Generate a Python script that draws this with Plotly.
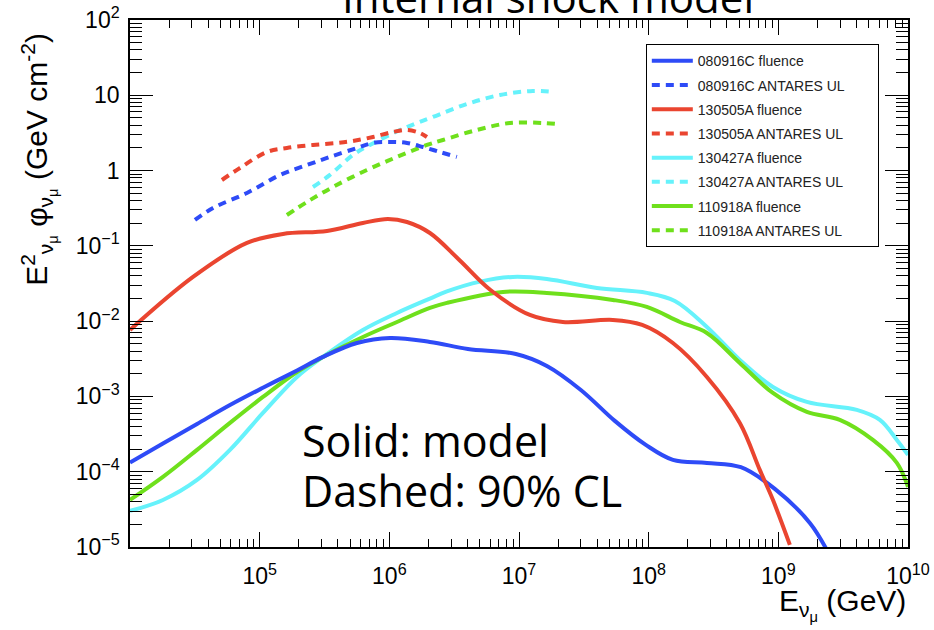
import plotly.graph_objects as go

# ---- data: log10(E / GeV) and log10(E^2 phi / GeV cm^-2) ----
# 080916C model fluence (solid)
le_080916C_fl = [4.000, 4.254, 4.517, 4.771, 5.025, 5.288, 5.488, 5.750, 6.005, 6.313, 6.606, 6.976,
                 7.215, 7.477, 7.739, 7.978, 8.187, 8.449, 8.711, 8.973, 9.243, 9.382]
lf_080916C_fl = [-3.879, -3.625, -3.365, -3.115, -2.885, -2.655, -2.475, -2.290, -2.223, -2.276, -2.369, -2.436,
                 -2.595, -2.914, -3.325, -3.644, -3.843, -3.883, -3.940, -4.228, -4.680, -5.065]
# 080916C ANTARES UL (dashed)
le_080916C_ul = [4.501, 4.640, 4.902, 5.157, 5.365, 5.542, 5.750, 5.874, 6.005, 6.136, 6.259, 6.390, 6.521]
lf_080916C_ul = [-0.656, -0.497, -0.297, -0.058, 0.074, 0.181, 0.300, 0.367, 0.380, 0.367, 0.313, 0.247, 0.181]

# 130505A model fluence (solid)
le_130505A_fl = [4.000, 4.486, 4.902, 5.180, 5.519, 5.796, 5.989, 6.136, 6.313, 6.540, 6.780, 7.084,
                 7.338, 7.724, 7.950, 8.187, 8.449, 8.703, 8.857, 8.958, 9.089]
lf_130505A_fl = [-2.117, -1.413, -0.961, -0.842, -0.802, -0.696, -0.643, -0.683, -0.829, -1.187, -1.586, -1.918,
                 -2.011, -1.984, -2.050, -2.290, -2.741, -3.352, -3.976, -4.374, -4.972]
# 130505A ANTARES UL (dashed)
le_130505A_ul = [4.709, 4.848, 5.056, 5.210, 5.411, 5.596, 5.719, 5.874, 6.028, 6.136, 6.236, 6.290]
lf_130505A_ul = [-0.125, 0.035, 0.247, 0.300, 0.340, 0.367, 0.393, 0.446, 0.513, 0.539, 0.499, 0.446]

# 130427A model fluence (solid)
le_130427A_fl = [4.000, 4.254, 4.517, 4.771, 5.025, 5.288, 5.488, 5.796, 6.059, 6.313, 6.444, 6.700, 6.953,
                 7.215, 7.601, 7.986, 8.202, 8.449, 8.703, 8.958, 9.220, 9.605, 9.783, 9.914, 10.0]
lf_130427A_fl = [-4.521, -4.375, -4.109, -3.710, -3.219, -2.741, -2.475, -2.117, -1.891, -1.700, -1.605, -1.475,
                 -1.413, -1.440, -1.559, -1.625, -1.732, -2.077, -2.515, -2.874, -3.073, -3.179, -3.312, -3.578, -3.777]
# 130427A ANTARES UL (dashed)
le_130427A_ul = [5.411, 5.542, 5.719, 5.850, 6.082, 6.213, 6.336, 6.598, 6.853, 7.107, 7.261]
lf_130427A_ul = [-0.218, -0.058, 0.207, 0.340, 0.539, 0.632, 0.712, 0.884, 1.004, 1.057, 1.044]

# 110918A model fluence (solid)
le_110918A_fl = [4.000, 4.254, 4.517, 4.771, 5.025, 5.288, 5.488, 5.796, 6.059, 6.313, 6.444, 6.876,
                 7.215, 7.724, 7.986, 8.241, 8.449, 8.703, 8.958, 9.220, 9.474, 9.729, 9.914, 10.0]
lf_110918A_fl = [-4.375, -4.069, -3.710, -3.352, -3.007, -2.675, -2.475, -2.210, -2.011, -1.825, -1.758, -1.612,
                 -1.625, -1.718, -1.811, -2.011, -2.157, -2.555, -2.954, -3.206, -3.312, -3.578, -3.883, -4.202]
# 110918A ANTARES UL (dashed)
le_110918A_ul = [5.210, 5.365, 5.565, 5.827, 6.059, 6.290, 6.413, 6.675, 6.930, 7.184, 7.292]
lf_110918A_ul = [-0.590, -0.417, -0.218, 0.008, 0.181, 0.340, 0.406, 0.539, 0.632, 0.632, 0.619]

x_tick_exp = [5, 6, 7, 8, 9, 10]
y_tick_exp = [-5, -4, -3, -2, -1, 0, 1, 2]
y_tick_text = ["10<sup>−5</sup>", "10<sup>−4</sup>", "10<sup>−3</sup>", "10<sup>−2</sup>",
               "10<sup>−1</sup>", "1", "10", "10<sup>2</sup>"]
x_tick_text = ["10<sup>%d</sup>" % e for e in x_tick_exp]

BLUE = "#2E4BF7"
RED = "#EA4530"
CYAN = "#66F2FB"
GREEN = "#6FE01C"

PAD = "\u00a0" * 7  # trailing room in the legend box, as in the original frame

series = [
    # (name, le, lf, colour, dash, legend rank)
    ("130427A fluence", le_130427A_fl, lf_130427A_fl, CYAN, "solid", 5),
    ("110918A fluence", le_110918A_fl, lf_110918A_fl, GREEN, "solid", 7),
    ("080916C fluence", le_080916C_fl, lf_080916C_fl, BLUE, "solid", 1),
    ("130505A fluence", le_130505A_fl, lf_130505A_fl, RED, "solid", 3),
    ("130427A ANTARES UL", le_130427A_ul, lf_130427A_ul, CYAN, "8px,6px", 6),
    ("110918A ANTARES UL", le_110918A_ul, lf_110918A_ul, GREEN, "8px,6px", 8),
    ("080916C ANTARES UL", le_080916C_ul, lf_080916C_ul, BLUE, "8px,6px", 2),
    ("130505A ANTARES UL", le_130505A_ul, lf_130505A_ul, RED, "8px,6px", 4),
]

fig = go.Figure()
for name, le, lf, col, dash, rank in series:
    fig.add_trace(go.Scatter(
        x=[10 ** v for v in le], y=[10 ** v for v in lf], mode="lines", name=name + PAD,
        line=dict(color=col, width=4, dash=dash, shape="spline", smoothing=1.0),
        legendrank=rank, legendgroup=name, showlegend=True))

FONT = "Liberation Sans, Arial, Helvetica, sans-serif"

axis_common = dict(
    type="log", showline=True, linecolor="black", linewidth=1.5, mirror="ticks",
    ticks="inside", tickcolor="black", tickwidth=1, showgrid=False, zeroline=False,
    automargin=False, ticklabeloverflow="allow",
    tickfont=dict(family=FONT, size=23, color="black"),
)

fig.update_xaxes(**axis_common, range=[4, 10], tickvals=[10 ** e for e in x_tick_exp],
                 ticktext=x_tick_text, ticklen=15, ticklabelstandoff=8,
                 minor=dict(ticks="inside", ticklen=8, tickcolor="black", dtick="D1", showgrid=False))
fig.update_yaxes(**axis_common, range=[-5, 2], tickvals=[10 ** e for e in y_tick_exp],
                 ticktext=y_tick_text, ticklen=23, ticklabelstandoff=4,
                 minor=dict(ticks="inside", ticklen=12, tickcolor="black", dtick="D1", showgrid=False))

fig.update_layout(
    width=934, height=630,
    margin=dict(l=130, r=26, t=20, b=83, autoexpand=False),
    paper_bgcolor="white", plot_bgcolor="white",
    font=dict(family=FONT, color="black"),
    showlegend=True,
    legend=dict(x=0.663, y=0.954, xanchor="left", yanchor="top",
                bgcolor="white", bordercolor="black", borderwidth=1,
                font=dict(family=FONT, size=14, color="#222"), tracegroupgap=3,
                itemwidth=41, traceorder="grouped"),
    annotations=[
        dict(text="E<sup>2</sup><sub>ν<sub>μ</sub></sub> φ<sub>ν<sub>μ</sub></sub> (GeV cm<sup>-2</sup>)",
             xref="paper", yref="paper", x=-0.118, y=0.735, xanchor="center", yanchor="middle",
             textangle=-90, showarrow=False, font=dict(family=FONT, size=30, color="black")),
        dict(text="E<sub>ν<sub>μ</sub></sub> (GeV)", xref="paper", yref="paper", x=1.0, y=-0.110,
             xanchor="right", yanchor="middle", showarrow=False,
             font=dict(family=FONT, size=30, color="black")),
        dict(text="Solid: model", xref="paper", yref="paper", x=0.218, y=0.203,
             xanchor="left", yanchor="middle", showarrow=False,
             font=dict(family="Open Sans, sans-serif", size=43, color="black")),
        dict(text="Dashed: 90% CL", xref="paper", yref="paper", x=0.218, y=0.108,
             xanchor="left", yanchor="middle", showarrow=False,
             font=dict(family="Open Sans, sans-serif", size=43, color="black")),
        dict(text="Internal shock model", xref="paper", yref="paper", x=0.537, y=0.9867,
             xanchor="center", yanchor="bottom", showarrow=False,
             font=dict(family="Open Sans, sans-serif", size=42, color="black")),
    ],
)

# remove the default 8px page margin so the 934x630 figure fills the window exactly
fig.write_html("out.html", config={"displayModeBar": False},
               post_script="document.body.style.margin='0';")
